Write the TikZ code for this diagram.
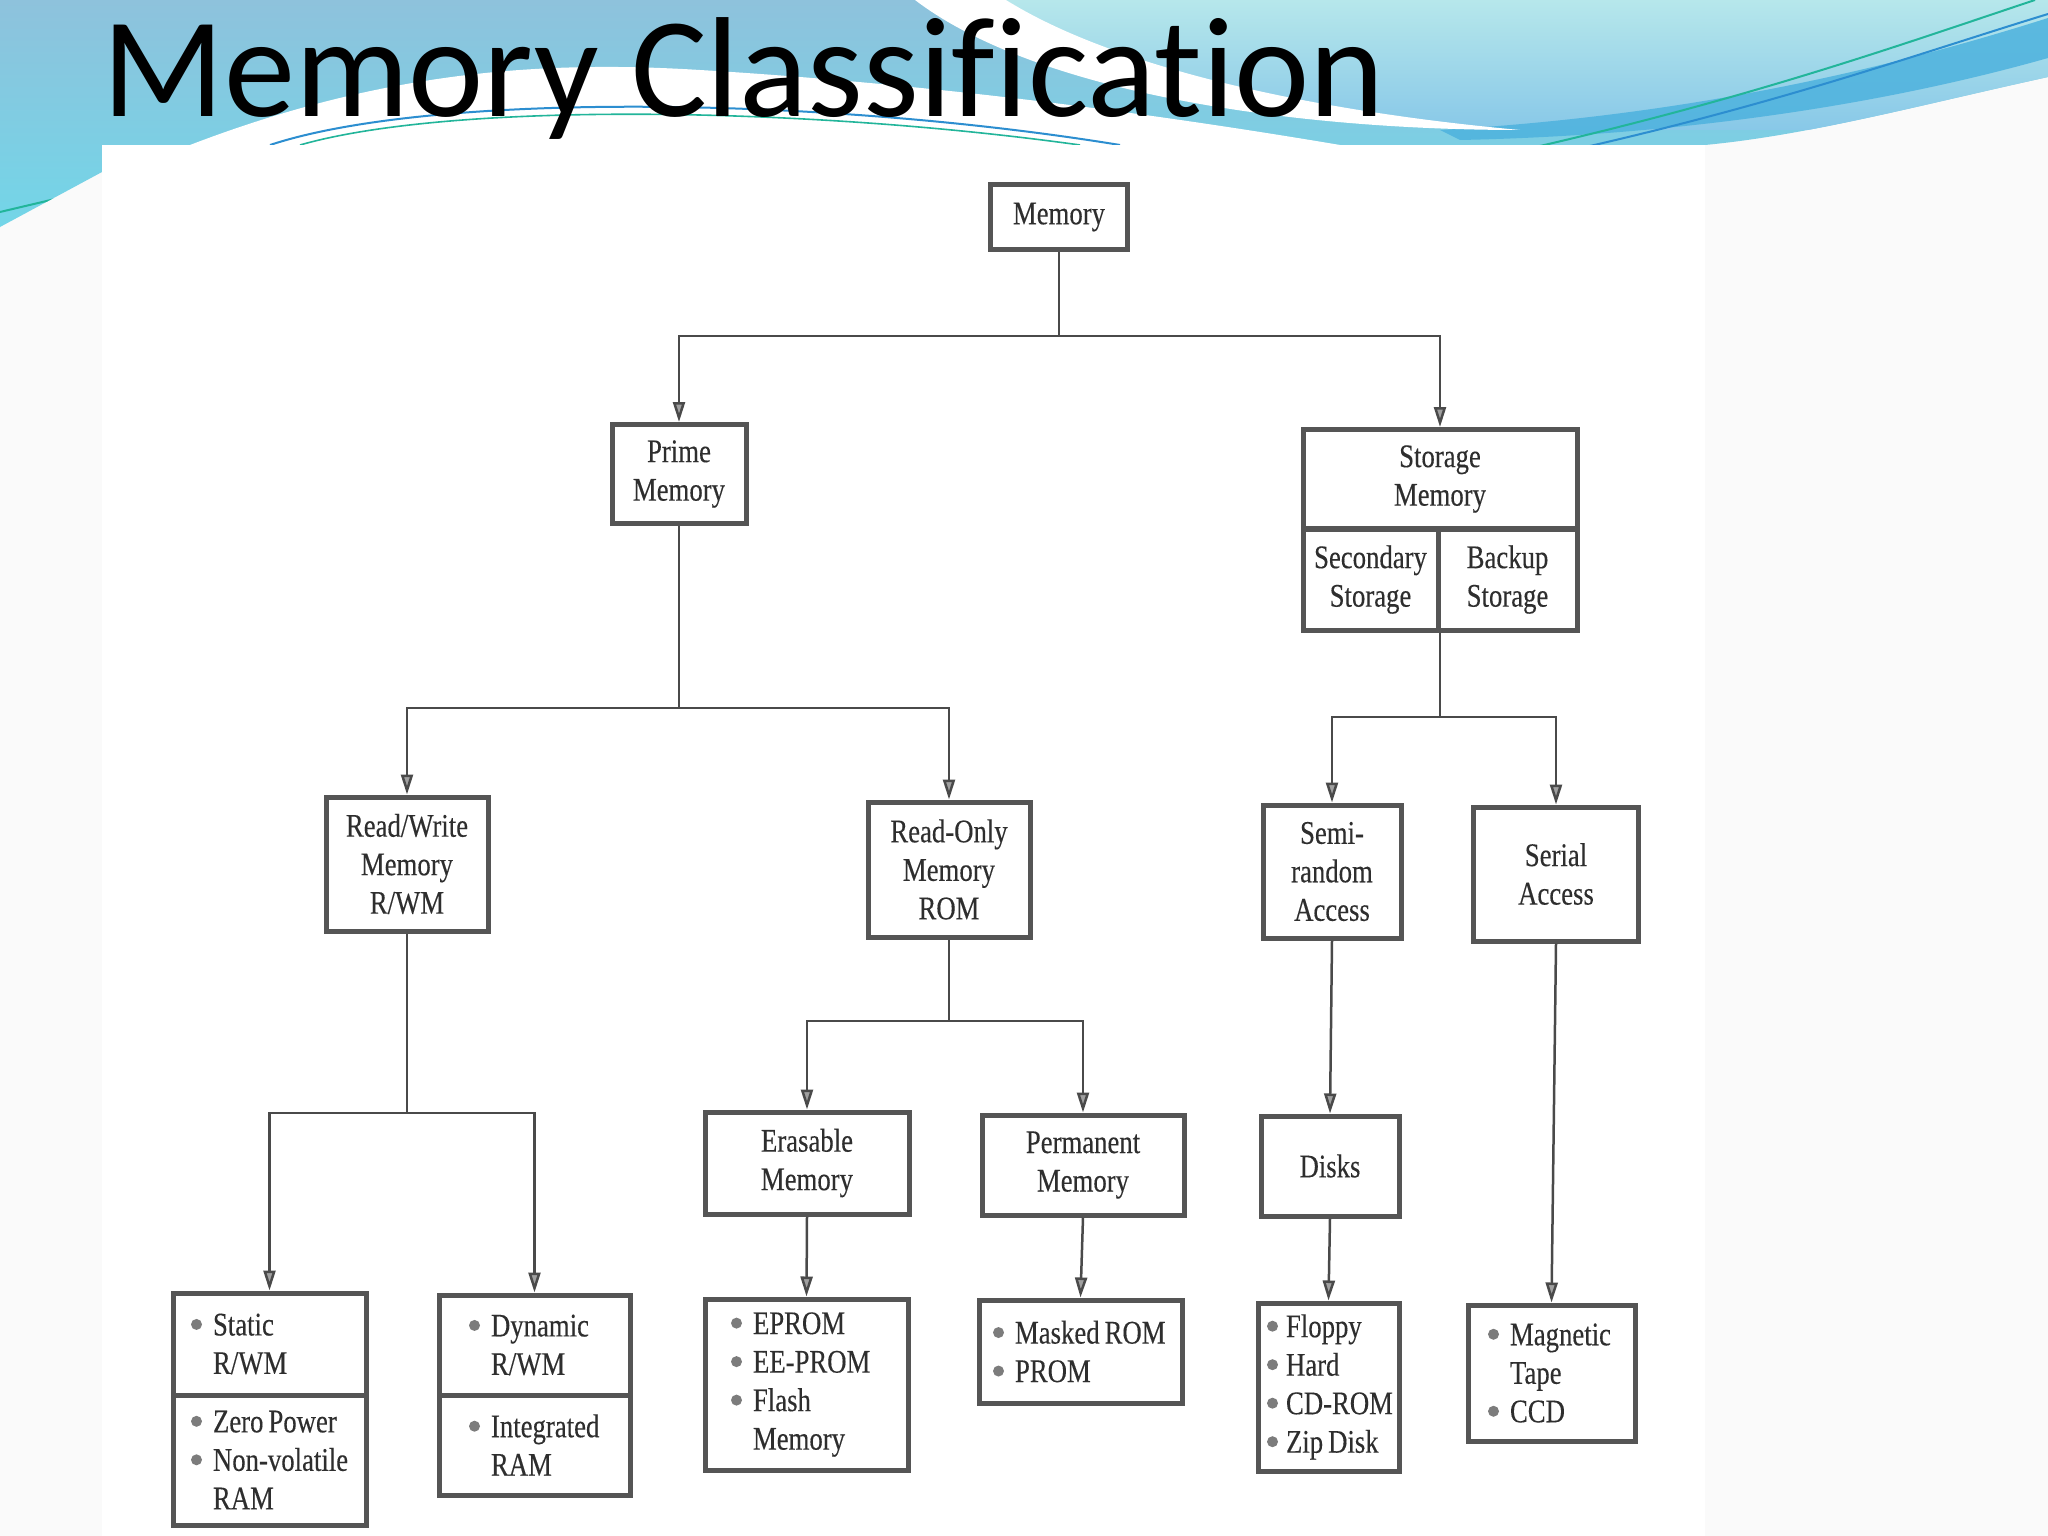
\documentclass[tikz,border=0pt]{standalone}
\usepackage{fontspec}
\usetikzlibrary{arrows.meta}
\newfontfamily\titlefont[Ligatures=NoCommon]{Carlito}
\newfontfamily\bookfont[FakeStretch=0.81,FakeBold=0.25]{Liberation Serif}
\definecolor{boxc}{HTML}{555555}
\definecolor{txtc}{HTML}{2E2E2E}
\definecolor{lnc}{HTML}{4A4A4A}
\definecolor{arrf}{HTML}{A0A0A0}
\definecolor{bulc}{HTML}{7C7C7C}
\definecolor{bgc}{HTML}{FAFAFA}
\definecolor{topblue}{HTML}{8EC2DC}
\definecolor{lowcyan}{HTML}{72D6E8}
\definecolor{aquat}{HTML}{B6E7EB}
\definecolor{aquab}{HTML}{88C8E8}
\definecolor{bandc}{HTML}{4DB2DE}
\definecolor{tealc}{HTML}{22B59A}
\definecolor{lblue}{HTML}{2C8ED0}
\hyphenpenalty=10000
\exhyphenpenalty=10000
\newcommand\bul{\makebox[22pt][l]{\tikz[baseline=-11pt]\fill[bulc] (0pt,0pt) circle (5.5pt);}}
\newcommand\buln{\makebox[19pt][l]{\tikz[baseline=-11pt]\fill[bulc] (0pt,0pt) circle (5.5pt);}}
\newcommand\ind{\hspace*{22pt}}
\newcommand\wsp{\hspace{5pt}}
\begin{document}
\begin{tikzpicture}[x=1pt,y=-1pt,
  box/.style={draw=boxc, line width=5pt, fill=white, inner sep=0pt, outer sep=2.5pt,
    text=txtc, font=\bookfont\fontsize{33}{38.5}\selectfont, align=center},
  lst/.style={box, align=left},
  ln/.style={draw=lnc, line width=2.5pt},
  arr/.style={ln, -{Triangle[length=20pt,width=12pt,fill=arrf]}}]
\useasboundingbox (0,0) rectangle (2048,1536);
\fill[bgc] (0,0) rectangle (2048,1536);
% banner
\begin{scope}
\clip (0,0) -- (2048,0) -- (2048,77) .. controls (1920,105) and (1810,135) .. (1705,145) -- (102,145) -- (102,172) -- (0,227) -- cycle;
\shade[top color=topblue, bottom color=lowcyan] (0,0) rectangle (2048,230);
\shade[top color=aquat, bottom color=aquab] (1006,0) .. controls (1100,65) and (1300,112) .. (1520,130) -- (2048,130) -- (2048,0) -- cycle;
\fill[bandc, opacity=0.85] (1440,130) .. controls (1700,115) and (1900,65) .. (2048,18) -- (2048,58) .. controls (1900,100) and (1700,135) .. (1460,140) -- cycle;
\fill[white] (915,0) .. controls (1040,95) and (1300,130) .. (1520,130) .. controls (1300,110) and (1110,65) .. (1006,0) -- cycle;
\fill[white] (190,145) .. controls (380,72) and (540,60) .. (700,70) .. controls (950,85) and (1180,118) .. (1340,145) -- cycle;
\draw[lblue, line width=2pt] (270,145) .. controls (430,92) and (820,96) .. (1120,145);
\draw[tealc, line width=1.6pt] (300,145) .. controls (450,102) and (800,106) .. (1080,145);
\draw[tealc, line width=2pt] (0,212) -- (110,186);
\draw[gray, line width=1.6pt] (0,228) -- (110,193);
\draw[tealc, line width=2pt] (1540,146) .. controls (1760,95) and (1900,45) .. (2035,0);
\draw[lblue, line width=2pt] (1590,146) .. controls (1790,100) and (1930,50) .. (2048,14);
\end{scope}
\fill[white] (102,145) rectangle (1705,1536);
% title
\node[anchor=base west, inner sep=0pt, font=\titlefont\fontsize{142.5}{142.5}\selectfont] (title) at (102,117) {Memory Classification};
% level boxes
\node[box, minimum width=137pt, minimum height=65pt] (mem) at (1059,217) {Memory};
\node[box, minimum width=134pt, minimum height=99pt] (prime) at (679,474) {Prime\\Memory};
\node[box, minimum width=274pt, minimum height=99pt] (stor) at (1440,479) {Storage\\Memory};
\node[box, minimum width=135pt, minimum height=101pt] (sec) at (1370.5,579.5) {Secondary\\Storage};
\node[box, minimum width=139pt, minimum height=101pt] (bak) at (1507.5,579.5) {Backup\\Storage};
\node[box, minimum width=162pt, minimum height=134pt] (rw) at (407,864) {Read/Write\\Memory\\R/WM};
\node[box, minimum width=162pt, minimum height=135pt] (rom) at (949,869.5) {Read-Only\\Memory\\ROM};
\node[box, minimum width=138pt, minimum height=133pt] (semi) at (1332,871.5) {Semi-\\random\\Access};
\node[box, minimum width=165pt, minimum height=134pt] (serial) at (1556,874) {Serial\\Access};
\node[box, minimum width=204pt, minimum height=102pt] (eras) at (807,1163) {Erasable\\Memory};
\node[box, minimum width=202pt, minimum height=100pt] (perm) at (1083,1165) {Permanent\\Memory};
\node[box, minimum width=138pt, minimum height=100pt] (disks) at (1330,1166) {Disks};
% leaf boxes
\node[lst, text width=157pt, inner xsep=18pt, minimum height=102pt] (sA) at (269.5,1344) {\bul Static\\\ind R/WM};
\node[lst, text width=157pt, inner xsep=18pt, minimum height=130pt] (sB) at (269.5,1460) {\bul Zero\wsp Power\\\bul Non-volatile\\\ind RAM};
\node[lst, text width=131pt, inner xsep=30pt, minimum height=100pt] (dA) at (534.5,1345) {\bul Dynamic\\\ind R/WM};
\node[lst, text width=131pt, inner xsep=30pt, minimum height=100pt] (dB) at (534.5,1445) {\bul Integrated\\\ind RAM};
\node[lst, text width=151pt, inner xsep=26pt, minimum height=171pt] (eprom) at (806.5,1384.5) {\bul EPROM\\\bul EE-PROM\\\bul Flash\\\ind Memory};
\node[lst, text width=175pt, inner xsep=14pt, minimum height=103pt] (mask) at (1080.5,1351.5) {\bul Masked\wsp ROM\\\bul PROM};
\node[lst, text width=123pt, inner xsep=9pt, minimum height=168pt] (flop) at (1328.5,1387) {\buln Floppy\\\buln Hard\\\buln CD-ROM\\\buln Zip\wsp Disk};
\node[lst, text width=127pt, inner xsep=20pt, minimum height=136pt] (mag) at (1551.5,1373) {\bul Magnetic\\\ind Tape\\\bul CCD};
% connectors
\coordinate (j1) at (mem.south |- 0,336);
\draw[ln] (mem.south) -- (j1);
\draw[arr] (j1) -| (prime.north);
\draw[arr] (j1) -| (stor.north);
\coordinate (j2) at (prime.south |- 0,708);
\draw[ln] (prime.south) -- (j2);
\draw[arr] (j2) -| (rw.north);
\draw[arr] (j2) -| (rom.north);
\coordinate (j3) at (stor.south |- 0,717);
\draw[ln] (stor.south |- sec.south) -- (j3);
\draw[arr] (j3) -| (semi.north);
\draw[arr] (j3) -| (serial.north);
\coordinate (j4) at (rw.south |- 0,1113);
\draw[ln] (rw.south) -- (j4);
\draw[arr] (j4) -| (sA.north);
\draw[arr] (j4) -| (dA.north);
\coordinate (j5) at (rom.south |- 0,1021);
\draw[ln] (rom.south) -- (j5);
\draw[arr] (j5) -| (eras.north);
\draw[arr] (j5) -| (perm.north);
\draw[arr] (semi.south) -- (disks.north);
\draw[arr] (serial.south) -- (mag.north);
\draw[arr] (eras.south) -- (eprom.north);
\draw[arr] (perm.south) -- (mask.north);
\draw[arr] (disks.south) -- (flop.north);
\end{tikzpicture}
\end{document}
